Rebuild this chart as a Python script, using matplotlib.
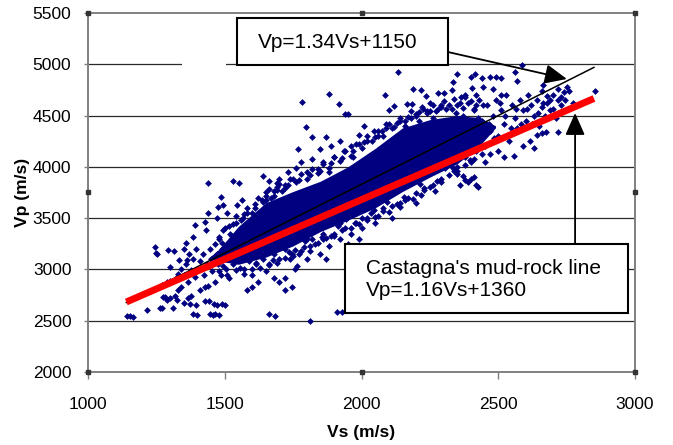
import matplotlib
matplotlib.use('Agg')
import matplotlib.pyplot as plt
from matplotlib.patches import Rectangle
import numpy as np

plt.rcParams['font.family'] = ['Liberation Sans', 'DejaVu Sans']

# ---- data (Vs, Vp in m/s) ----
# dense core of the cloud: lower / upper edge of the solid band
core_vs = [1440, 1480, 1550, 1650, 1750, 1850, 1950, 2050, 2150, 2250, 2350, 2430, 2490]
core_top = [3110, 3200, 3420, 3650, 3760, 3860, 4000, 4180, 4380, 4460, 4500, 4480, 4400]
core_bot = [3100, 3080, 3050, 3120, 3230, 3370, 3480, 3600, 3760, 3900, 4030, 4200, 4380]

# points along the upper edge of the core
up_vs = [1480, 1500, 1520, 1540, 1560, 1580, 1600, 1620, 1640, 1660, 1680, 1700, 1720, 1740,
         1760, 1780, 1800, 1820, 1840, 1860, 1880, 1900, 1920, 1940, 1960, 1980, 2000, 2020,
         2040, 2060, 2080, 2100, 2120, 2140, 2160, 2180, 2200, 2220, 2240, 2260, 2280, 2300,
         2320, 2340, 2360, 2380, 2400, 2420,
         1490, 1530, 1570, 1610, 1650, 1690, 1730, 1770, 1810, 1850, 1890, 1930, 1970, 2010,
         2050, 2090, 2130, 2170, 2210, 2250, 2290, 2330, 2370, 2410]
up_vp = [3320, 3400, 3350, 3520, 3480, 3600, 3550, 3700, 3660, 3780, 3720, 3830, 3790, 3880,
         3850, 3930, 3880, 3980, 3940, 4030, 3990, 4100, 4060, 4150, 4110, 4220, 4180, 4300,
         4250, 4350, 4300, 4420, 4390, 4480, 4450, 4540, 4500, 4580, 4540, 4600, 4560, 4640,
         4600, 4660, 4620, 4680, 4640, 4600,
         3260, 3440, 3540, 3640, 3720, 3770, 3820, 3870, 3920, 3960, 4040, 4090, 4150, 4240,
         4290, 4380, 4430, 4490, 4530, 4540, 4580, 4560, 4570, 4560]

# points along the lower edge of the core
dn_vs = [1480, 1510, 1540, 1570, 1600, 1630, 1660, 1690, 1720, 1750, 1780, 1810, 1840, 1870,
         1900, 1930, 1960, 1990, 2020, 2050, 2080, 2110, 2140, 2170, 2200, 2230, 2260, 2290,
         2320, 2350, 2380, 2410, 2440,
         1495, 1555, 1615, 1675, 1735, 1795, 1855, 1915, 1975, 2035, 2095, 2155, 2215, 2275,
         2335, 2395]
dn_vp = [2980, 2950, 2990, 2960, 3000, 3010, 3040, 3060, 3110, 3130, 3180, 3230, 3260, 3310,
         3330, 3380, 3400, 3440, 3480, 3510, 3570, 3620, 3650, 3700, 3740, 3790, 3820, 3880,
         3920, 3960, 4020, 4080, 4120,
         3030, 3010, 3060, 3090, 3170, 3280, 3320, 3420, 3450, 3550, 3660, 3710, 3830, 3860,
         3990, 4070]

# left tail
left_vs = [1144, 1155, 1165, 1215, 1245, 1250, 1254, 1263, 1270, 1275, 1281, 1290, 1293, 1300,
           1301, 1310, 1313, 1318, 1325, 1328, 1332, 1340, 1350, 1352, 1357, 1363, 1365, 1366,
           1372, 1378, 1383, 1384, 1391, 1396, 1398, 1410, 1426, 1428, 1428, 1433, 1439, 1440,
           1440, 1443, 1445, 1458, 1460, 1466, 1466, 1470, 1470, 1476, 1480, 1486, 1490, 1495,
           1500, 1507, 1515, 1531, 1543, 1553, 1562,
           1400, 1410, 1420, 1425, 1435, 1445, 1450, 1455, 1465, 1470, 1475, 1480, 1485, 1490,
           1495, 1500, 1505, 1510, 1515, 1520, 1525, 1530, 1535, 1540, 1545, 1550, 1555, 1560,
           1565, 1570, 1575, 1580, 1585, 1590, 1595, 1600, 1610, 1615, 1620, 1625, 1635, 1640,
           1650, 1660, 1670, 1680, 1690, 1700, 1710, 1720,
           1340, 1350, 1360, 1370, 1375, 1385, 1390, 1395, 1320, 1330, 1290, 1270, 1300]
left_vp = [2549, 2545, 2540, 2604, 3218, 3160, 3150, 2620, 2620, 2734, 2734, 2700, 3189, 2720,
           3027, 2620, 3180, 2740, 2700, 2800, 3092, 2830, 3200, 2675, 3255, 3092, 2720, 2880,
           2665, 2745, 3320, 2565, 3433, 2650, 2554, 2803, 2690, 3465, 2831, 3385, 3840, 3546,
           2835, 2690, 2565, 2560, 2660, 2565, 2880, 3500, 2650, 3611, 2560, 3708, 2660, 3627,
           2657, 3546, 2913, 3866, 3627, 3847, 3676,
           3000, 3080, 3150, 2950, 3050, 3200, 3100, 2980, 3250, 3150, 3050, 3300, 2950, 3200,
           3380, 3100, 3000, 3250, 3420, 3150, 3330, 3050, 3200, 3450, 3300, 3100, 3380, 3220,
           3500, 3000, 3150, 3550, 3300, 3080, 3450, 3200, 3600, 3050, 3500, 3150, 3680, 3100,
           3750, 3050, 3700, 3150, 3800, 3100, 3760, 3200,
           3000, 2950, 3050, 3150, 2990, 3100, 2930, 3200, 2920, 2960, 2880, 2850, 2890]

# low scatter under the red line
low_vs = [1582, 1600, 1620, 1650, 1680, 1700, 1722, 1722, 1745, 1757, 1763, 1756, 1740, 1745,
          1663, 1683, 1812, 1909, 1928, 1598,
          1770, 1790, 1810, 1830, 1850, 1860, 1880, 1900, 1920, 1940, 1960, 1980, 2000, 2020,
          2046, 2060, 2080, 2100, 2130, 2140, 2160, 2188, 2200, 2218, 2230, 2250, 2270, 2290,
          1800, 1820, 1870, 1950, 1990, 2050, 2110,
          1800, 1830, 1860, 1890, 1923, 1945, 1980, 2000]
low_vp = [2800, 2950, 2880, 2980, 2920, 2880, 2800, 2914, 2828, 3000, 3033, 3189, 3100, 3150,
          2565, 2550, 2500, 2588, 2588, 2832,
          3150, 3220, 3180, 3250, 3150, 3300, 3230, 3350, 3300, 3400, 3350, 3450, 3400, 3500,
          3580, 3520, 3600, 3560, 3640, 3610, 3680, 3690, 3650, 3725, 3770, 3800, 3760, 3850,
          3100, 3300, 3100, 3250, 3300, 3450, 3500,
          3300, 3400, 3350, 3330, 3450, 3490, 3550, 3500]

# scatter above the core
high_vs = [1639, 1660, 1691, 1769, 1783, 1796, 1818, 1848, 1872, 1881, 1917, 1940, 1952, 1991,
           2009, 2046, 2076, 2086, 2100, 2120, 2134, 2167, 2185, 2188, 2200, 2218, 2225, 2236,
           2249, 2273, 2281, 2303, 1890, 1900, 1920, 1935, 1960, 1970, 1730, 1750, 1760, 1780,
           1800, 1820, 1840, 1860, 1880, 1990, 2020, 2060, 2090, 2110, 2140, 2160, 2180, 2210,
           2240, 2260, 2290, 2310, 1700, 1720, 1680, 1650]
high_vp = [3914, 3866, 3840, 4173, 4631, 4391, 4287, 4170, 4290, 4709, 4612, 4515, 4515, 4310,
           4398, 4350, 4350, 4700, 4550, 4590, 4927, 4610, 4610, 4758, 4515, 4752, 4560, 4693,
           4620, 4545, 4720, 4720, 4200, 4100, 4250, 4150, 4200, 4100, 3950, 3880, 3990, 4050,
           3950, 4080, 3980, 4050, 3950, 4220, 4250, 4300, 4420, 4380, 4450, 4400, 4480, 4450,
           4520, 4480, 4600, 4560, 3880, 3820, 3760, 3680]

# right end of the cloud
right_vs = [2330, 2335, 2350, 2380, 2400, 2405, 2415, 2420, 2440, 2445, 2470, 2480, 2490, 2510,
            2510, 2561, 2567, 2586, 2660, 2665, 2700, 2720, 2740, 2750, 2760, 2775, 2854, 2680,
            2690, 2730,
            2320, 2330, 2340, 2350, 2360, 2370, 2380, 2390, 2400, 2410, 2420, 2430, 2440, 2450,
            2460, 2470, 2480, 2490, 2500, 2510, 2520, 2530, 2540, 2550, 2560, 2570, 2580, 2590,
            2600, 2610, 2620, 2630, 2640, 2650, 2660, 2670, 2680, 2700, 2710, 2717, 2674, 2630,
            2616, 2640, 2660, 2558, 2590, 2500, 2520, 2450, 2470, 2400, 2420, 2380, 2350, 2330,
            2305,
            2325, 2345, 2365, 2385, 2405, 2425, 2445, 2465, 2485, 2505, 2525, 2545, 2565, 2585,
            2605, 2625, 2645, 2665, 2690, 2730, 2745, 2720,
            2390, 2400, 2410, 2420, 2425, 2380, 2370, 2350, 2340, 2360]
right_vp = [4750, 4830, 4904, 4700, 4880, 4770, 4900, 4700, 4870, 4780, 4880, 4760, 4880, 4870,
            4700, 4927, 4835, 4992, 4740, 4800, 4700, 4760, 4730, 4780, 4740, 4625, 4739, 4690,
            4650, 4680,
            4300, 4450, 4150, 4600, 4350, 4500, 4200, 4620, 4400, 4550, 4300, 4650, 4450, 4200,
            4600, 4350, 4500, 4650, 4300, 4550, 4420, 4700, 4250, 4600, 4480, 4380, 4650, 4550,
            4450, 4700, 4600, 4500, 4650, 4400, 4580, 4500, 4620, 4560, 4480, 4342, 4342, 4180,
            4250, 4310, 4330, 4105, 4200, 4150, 4100, 4050, 4120, 4050, 4150, 4100, 4000, 4050,
            3990,
            4380, 4520, 4680, 4420, 4300, 4480, 4600, 4420, 4280, 4620, 4500, 4380, 4560, 4420,
            4560, 4420, 4520, 4620, 4550, 4600, 4650, 4650,
            3850, 3880, 3900, 3820, 3800, 3870, 3910, 3930, 3960, 3820]

# fitted lines
fit_vs = [1140, 2850]
fit_a, fit_b = 1.34, 1150
castagna_a, castagna_b = 1.16, 1360

x_ticks = [1000, 1500, 2000, 2500, 3000]
y_ticks = [2000, 2500, 3000, 3500, 4000, 4500, 5000, 5500]

navy = '#000080'

fig = plt.figure(figsize=(6.73, 4.45), dpi=100)
ax = fig.add_axes([0.1308, 0.164, 0.8127, 0.807])

ax.set_xlim(1000, 3000)
ax.set_ylim(2000, 5500)

# horizontal grid lines (inner ticks only)
ax.hlines(y_ticks[1:-1], 1000, 3000, color='#2a2a2a', lw=0.9, zorder=1)
# white gap in the 5000 line
ax.add_patch(Rectangle((1344, 4975), 161, 50, facecolor='white', edgecolor='none', zorder=1.5))

ax.fill_between(core_vs, core_bot, core_top, color=navy, lw=0, zorder=2)
groups = [(up_vs, up_vp), (dn_vs, dn_vp), (left_vs, left_vp), (low_vs, low_vp),
          (high_vs, high_vp), (right_vs, right_vp)]
for xs, ys in groups:
    ax.scatter(xs, ys, marker='D', s=12, color=navy, linewidths=0, zorder=3)

fv = np.array(fit_vs)
ax.plot(fv, fit_a * fv + fit_b, color='black', lw=1.1, zorder=4)
ax.plot(fv, castagna_a * fv + castagna_b, color='#ff0000', lw=5, solid_capstyle='butt', zorder=5)

# frame
for s in ax.spines.values():
    s.set_color('#808080')
    s.set_linestyle((0, (1, 1)))
    s.set_linewidth(1.4)

ax.set_xticks(x_ticks)
ax.set_yticks(y_ticks)
ax.tick_params(axis='x', length=5, width=1, color='#808080', pad=13, labelsize=12.5)
ax.tick_params(axis='y', length=3, width=1, color='#808080', pad=9, labelsize=12.5)

ax.set_xlabel('Vs (m/s)', fontsize=12.5, fontweight='bold', labelpad=9)
ax.set_ylabel('Vp (m/s)', fontsize=12.5, fontweight='bold', labelpad=2)

# selection handles on the frame
hx = [0, 0.5, 1, 0, 1, 0, 0.5, 1]
hy = [1, 1, 1, 0.5, 0.5, 0, 0, 0]
ax.plot(hx, hy, 's', ms=2.2, color='#333333', transform=ax.transAxes, clip_on=False, zorder=6)

# annotation boxes
ax.add_patch(Rectangle((1545, 4992), 771, 458, facecolor='white', edgecolor='black', lw=1.5, zorder=7))
ax.text(1622, 5216, 'Vp=1.34Vs+1150', fontsize=15, va='center', ha='left', zorder=8)
ax.annotate('', xy=(2751, 4856), xytext=(2316, 5119),
            arrowprops=dict(arrowstyle='-|>,head_length=0.9,head_width=0.4', mutation_scale=15,
                            color='black', lw=1.3, shrinkA=0, shrinkB=0), zorder=8)

ax.add_patch(Rectangle((1940, 2575), 1034, 673, facecolor='white', edgecolor='black', lw=1.5,
                       zorder=7, clip_on=False))
ax.text(2016, 2901, "Castagna's mud-rock line\nVp=1.16Vs+1360", fontsize=15, va='center',
        ha='left', linespacing=1.25, zorder=8)
ax.annotate('', xy=(2781, 4524), xytext=(2781, 3248),
            arrowprops=dict(arrowstyle='-|>,head_length=0.9,head_width=0.4', mutation_scale=15,
                            color='black', lw=1.3, shrinkA=0, shrinkB=0), zorder=8)

fig.savefig('out.png', dpi=100)
